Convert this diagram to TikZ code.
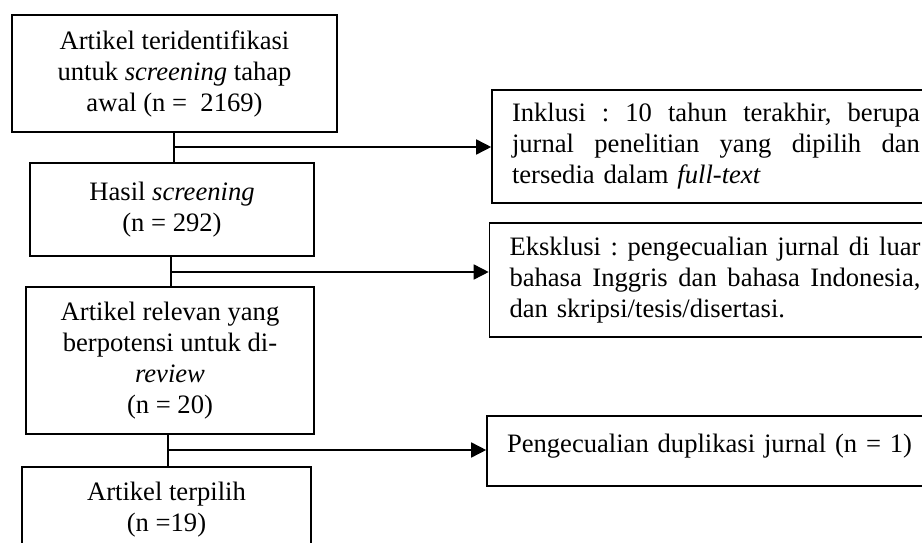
\documentclass[tikz,border=0pt]{standalone}
\usepackage{fontspec}
\setmainfont{Liberation Serif}
\usetikzlibrary{arrows.meta}
\frenchspacing
\newcommand\jsp{\hspace{0pt plus 1fil}\ }
\newcommand\jline[2]{\leavevmode\hbox to #1{#2}}
\begin{document}
\begin{tikzpicture}[x=1pt,y=-1pt,
  box/.style={draw=black,line width=1.6pt,inner sep=0pt,align=center,
    font=\fontsize{26.6}{31}\selectfont\frenchspacing},
  sidebox/.style={draw=black,line width=1.6pt,inner xsep=20pt,inner ysep=0pt,align=left,
    font=\fontsize{26.6}{31}\selectfont\frenchspacing},
  conn/.style={line width=1.6pt},
  arr/.style={line width=1.6pt,-{Triangle[length=15pt,width=15pt]}}]
\useasboundingbox[fill=white] (0,0) rectangle (922,543);
\clip (0,0) rectangle (922,543);
% left column
\node[box,minimum width=325pt,minimum height=117pt] (b1) at (174.5,73.5)
  {Artikel teridentifikasi\\untuk \textit{screening} tahap\\awal (n =\ \ 2169)};
\node[box,minimum width=284pt,minimum height=93pt] (b2) at (172,209.5)
  {Hasil \textit{screening}\\(n = 292)};
\node[box,minimum width=288pt,minimum height=147pt] (b3) at (170,360.5)
  {Artikel relevan yang\\berpotensi untuk di-\\\textit{review}\\(n = 20)};
\node[box,minimum width=289pt,minimum height=85pt] (b4) at (166.5,509.5)
  {Artikel terpilih\\(n =19)};
% right column
\node[sidebox,text width=408pt,minimum height=113pt] (inc) at (716,146.5)
  {\jline{408pt}{Inklusi\jsp:\jsp10\jsp tahun\jsp terakhir,\jsp berupa}\\
   \jline{408pt}{jurnal\jsp penelitian\jsp yang\jsp dipilih\jsp dan}\\
   tersedia dalam \textit{full-text}};
\node[sidebox,text width=411pt,minimum height=114pt] (exc) at (715,280)
  {\jline{411pt}{Eksklusi\jsp:\jsp pengecualian\jsp jurnal\jsp di\jsp luar}\\
   \jline{411pt}{bahasa\jsp Inggris\jsp dan\jsp bahasa\jsp Indonesia,}\\
   dan skripsi/tesis/disertasi.};
\node[sidebox,text width=413pt,minimum height=70pt,text height=19pt,text depth=17pt] (dup) at (713.5,451)
  {Pengecualian duplikasi jurnal (n = 1)};
% connectors
\coordinate (j1) at (174,147);
\coordinate (j2) at (171,272);
\coordinate (j3) at (168,450);
\draw[conn] (b1.south -| j1) -- (b2.north -| j1);
\draw[arr] (j1) -- (j1 -| inc.west);
\draw[conn] (b2.south -| j2) -- (b3.north -| j2);
\draw[arr] (j2) -- (j2 -| exc.west);
\draw[conn] (b3.south -| j3) -- (b4.north -| j3);
\draw[arr] (j3) -- (j3 -| dup.west);
\end{tikzpicture}
\end{document}
